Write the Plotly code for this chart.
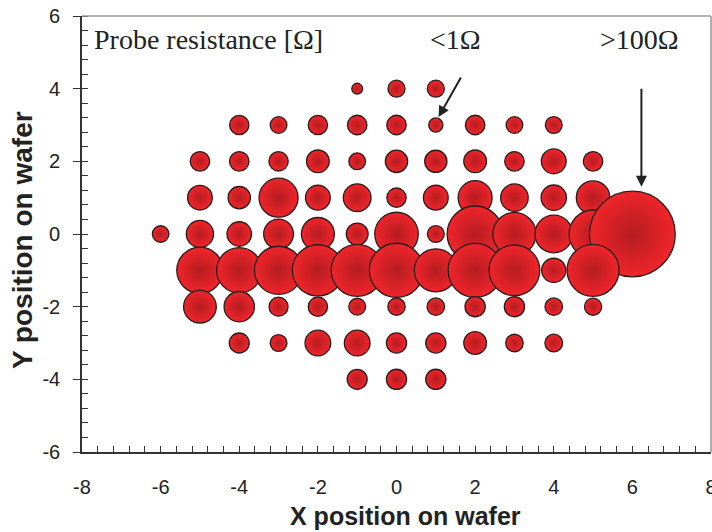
import plotly.graph_objects as go

# ---- data: wafer probe grid (x, y) and bubble value (relative probe resistance) ----
row_y = [4, 3, 2, 1, 0, -1, -2, -3, -4]
row_x = {
    4: [-1, 0, 1],
    3: [-4, -3, -2, -1, 0, 1, 2, 3, 4],
    2: [-5, -4, -3, -2, -1, 0, 1, 2, 3, 4, 5],
    1: [-5, -4, -3, -2, -1, 0, 1, 2, 3, 4, 5],
    0: [-6, -5, -4, -3, -2, -1, 0, 1, 2, 3, 4, 5, 6],
    -1: [-5, -4, -3, -2, -1, 0, 1, 2, 3, 4, 5],
    -2: [-5, -4, -3, -2, -1, 0, 1, 2, 3, 4, 5],
    -3: [-4, -3, -2, -1, 0, 1, 2, 3, 4],
    -4: [-1, 0, 1],
}
row_val = {
    4: [11.8, 18, 18],
    3: [20.3, 17.7, 20.3, 20.5, 20.5, 15.2, 20.5, 17.7, 17.8],
    2: [20.5, 20.5, 20.3, 23.7, 17.7, 23.3, 23.2, 23.7, 20.5, 25.8, 20.5],
    1: [25.7, 23.3, 40, 25.8, 28.7, 20.3, 25.8, 35, 28.5, 26.3, 34.5],
    0: [17.5, 28.2, 25.5, 30.8, 34, 22.8, 44.5, 17.8, 57, 44.2, 38.7, 49, 86.7],
    -1: [47.3, 46.3, 49.2, 52.2, 53, 55.2, 44, 55, 51.7, 25.2, 53],
    -2: [33.7, 31.3, 20, 20.3, 17.8, 18.3, 18.5, 21.2, 21.2, 18.5, 18.2],
    -3: [21, 17.8, 26.7, 26.7, 21.2, 21.2, 23.7, 18.5, 18.7],
    -4: [21, 21.2, 21.2],
}
x_ticks = [-8, -6, -4, -2, 0, 2, 4, 6, 8]
y_ticks = [-6, -4, -2, 0, 2, 4, 6]

xs, ys, vals = [], [], []
for yy in row_y:
    for xx, v in zip(row_x[yy], row_val[yy]):
        xs.append(xx)
        ys.append(yy)
        vals.append(v)

fig = go.Figure()
fig.add_trace(go.Scatter(
    x=xs, y=ys, mode="markers",
    marker=dict(
        size=[v - 1 for v in vals], sizemode="diameter", sizeref=1,
        color="#f0252b",
        gradient=dict(type="radial", color="#b51d21"),
        line=dict(color="#2a1c1c", width=1.3),
        opacity=1,
    ),
    hoverinfo="x+y", showlegend=False,
))
# helper trace for overlay axis (inside major ticks on y)
fig.add_trace(go.Scatter(x=[None], y=[None], yaxis="y2", showlegend=False, hoverinfo="skip"))

tickfont = dict(family="Liberation Sans, Arial", size=20, color="#222")

fig.update_layout(
    width=712, height=532,
    margin=dict(l=82, r=1, t=16, b=80),
    paper_bgcolor="white", plot_bgcolor="white",
    xaxis=dict(
        range=[-8, 8], tickvals=x_ticks, ticktext=[str(v) for v in x_ticks],
        ticks="inside", ticklen=6, tickwidth=1.3, tickcolor="#333",
        showline=True, linecolor="#333", linewidth=1.6,
        showgrid=False, zeroline=False, tickfont=tickfont,
        ticklabelstandoff=16, ticklabeloverflow="allow",
        minor=dict(dtick=0.4, tick0=-8, ticks="inside", ticklen=6, tickwidth=1.3, tickcolor="#333", showgrid=False),
        automargin=False,
    ),
    yaxis=dict(
        range=[-6, 6], tickvals=y_ticks, ticktext=[str(v) for v in y_ticks],
        ticks="outside", ticklen=7, tickwidth=1.3, tickcolor="#333",
        showline=True, linecolor="#333", linewidth=1.6,
        showgrid=False, zeroline=False, tickfont=tickfont,
        ticklabelstandoff=9,
        minor=dict(dtick=0.4, tick0=-6, ticks="inside", ticklen=6, tickwidth=1.3, tickcolor="#333", showgrid=False),
        automargin=False,
    ),
    yaxis2=dict(
        range=[-6, 6], overlaying="y", anchor="x", side="left",
        tickvals=y_ticks, ticks="inside", ticklen=6, tickwidth=1.3, tickcolor="#333",
        showticklabels=False, showgrid=False, zeroline=False, showline=False,
    ),
    shapes=[
        dict(type="line", xref="paper", yref="paper", x0=0, x1=1, y0=1, y1=1,
             line=dict(color="#9a9a9a", width=1.6)),
        dict(type="line", xref="paper", yref="paper", x0=1, x1=1, y0=0, y1=1,
             line=dict(color="#9a9a9a", width=1.6)),
    ],
)

# axis titles
fig.add_annotation(xref="paper", yref="paper", x=0.515, y=-0.147, xanchor="center", yanchor="middle",
                   text="<b>X position on wafer</b>", showarrow=False,
                   font=dict(family="Liberation Sans, Arial", size=25, color="#222"))
fig.add_annotation(xref="paper", yref="paper", x=-0.0954, y=0.486, xanchor="center", yanchor="middle",
                   text="<b>Y position on wafer</b>", textangle=-90, showarrow=False,
                   font=dict(family="Liberation Sans, Arial", size=28, color="#222"))

serif = dict(family="Liberation Serif, Times New Roman", size=28, color="#222")
fig.add_annotation(x=-7.75, y=5.36, text="Probe resistance [Ω]", showarrow=False,
                   xanchor="left", font=serif)
fig.add_annotation(x=1.5, y=5.36, text="<1Ω", showarrow=False, font=serif)
fig.add_annotation(x=6.18, y=5.36, text=">100Ω", showarrow=False, font=serif)
fig.add_annotation(x=1.07, y=3.22, ax=1.66, ay=4.35, axref="x", ayref="y", text="",
                   showarrow=True, arrowhead=2, arrowsize=1.1, arrowwidth=2, arrowcolor="#222", standoff=0)
fig.add_annotation(x=6.23, y=1.30, ax=6.23, ay=4.04, axref="x", ayref="y", text="",
                   showarrow=True, arrowhead=2, arrowsize=1.1, arrowwidth=2, arrowcolor="#222", standoff=0)

fig.write_html("out.html")
